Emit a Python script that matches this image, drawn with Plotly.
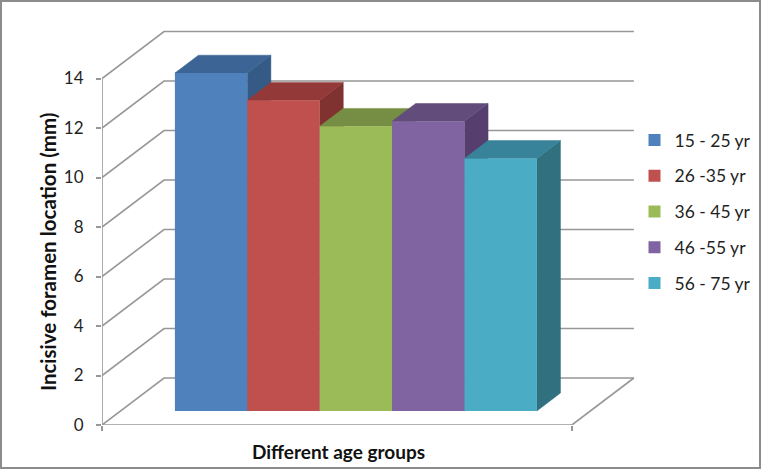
import plotly.graph_objects as go

# ---- data ----
series_names = ["15 - 25 yr", "26 -35 yr", "36 - 45 yr", "46 -55 yr", "56 - 75 yr"]
series_values = [13.65, 12.55, 11.5, 11.7, 10.2]
y_ticks = [0, 2, 4, 6, 8, 10, 12, 14]
x_axis_title = "Different age groups"
y_axis_title = "Incisive foramen location (mm)"

# ---- style ----
front_colors = ["#4f81bd", "#c0504d", "#9bbb59", "#8064a2", "#4bacc6"]
top_colors = ["#3c6494", "#933a38", "#758e43", "#614c7b", "#38839a"]
side_colors = ["#355a85", "#7f3230", "#667c3a", "#563f6e", "#30707f"]
GRID = "#979797"
TEXT = "#1f1f1f"
FONT = "Lato"

W, H = 761, 470
PLOT_L, PLOT_R, PLOT_T, PLOT_B = 102, 640, 25, 425
UX, UY = 72.4, 24.75          # px per category unit / per value unit
CAT_SPAN = 6.49               # axis length in bar widths
DEPTH_X, DEPTH_Y = 62 / UX, 47 / UY   # oblique offset of the back wall
Z_FRONT, Z_BACK = 0.30, 0.68  # bar front and back planes
GAP = 0.75

x_max = (PLOT_R - PLOT_L) / UX
y_max = (PLOT_B - PLOT_T) / UY
px = lambda p: (p - PLOT_L) / (PLOT_R - PLOT_L)
py = lambda p: (PLOT_B - p) / (PLOT_B - PLOT_T)


def proj(x, y, z):
    return x + z * DEPTH_X, y + z * DEPTH_Y


fig = go.Figure()


def line(xs, ys):
    fig.add_trace(go.Scatter(x=xs, y=ys, mode="lines", showlegend=False, hoverinfo="skip",
                             line=dict(color=GRID, width=1.6), cliponaxis=False))


# walls and floor
for v in y_ticks:
    bx, by = proj(0, v, 1)
    ex, ey = proj(CAT_SPAN, v, 1)
    line([0, bx, ex], [v, by, ey])
ex, ey = proj(CAT_SPAN, 0, 1)
line([CAT_SPAN, ex], [0, ey])
line([0, 0], [y_ticks[0], y_ticks[-1]])
line([0, CAT_SPAN], [0, 0])


def poly(pts, color):
    xs = [p[0] for p in pts] + [pts[0][0]]
    ys = [p[1] for p in pts] + [pts[0][1]]
    fig.add_trace(go.Scatter(x=xs, y=ys, mode="lines", fill="toself", fillcolor=color,
                             line=dict(color=color, width=0.5), showlegend=False,
                             hoverinfo="skip"))


# tops and sides, left to right; the fronts sit on an overlaid axis pair above them
for i, v in enumerate(series_values):
    xl, xr = GAP + i, GAP + i + 1
    poly([proj(xr, 0, Z_FRONT), proj(xr, v, Z_FRONT), proj(xr, v, Z_BACK), proj(xr, 0, Z_BACK)],
         side_colors[i])
    poly([proj(xl, v, Z_FRONT), proj(xr, v, Z_FRONT), proj(xr, v, Z_BACK), proj(xl, v, Z_BACK)],
         top_colors[i])

for i, (name, v) in enumerate(zip(series_names, series_values)):
    cx, base = proj(GAP + i + 0.5, 0, Z_FRONT)
    fig.add_trace(go.Bar(x=[cx], y=[v], base=base, width=1, name=name, legendgroup=name,
                         marker=dict(color=front_colors[i], line=dict(width=0)),
                         xaxis="x2", yaxis="y2"))

fig.update_layout(
    width=W, height=H, autosize=False,
    margin=dict(l=PLOT_L, r=W - PLOT_R, t=PLOT_T, b=H - PLOT_B, pad=0, autoexpand=False),
    paper_bgcolor="white", plot_bgcolor="white",
    barmode="overlay",
    font=dict(family=FONT, color=TEXT, size=16),
    xaxis=dict(range=[0, x_max], showgrid=False, zeroline=False, showline=False,
               tickmode="array", tickvals=[0, CAT_SPAN], ticktext=["", ""],
               ticks="outside", ticklen=5, tickwidth=1.6, tickcolor=GRID),
    yaxis=dict(range=[0, y_max], showgrid=False, zeroline=False, showline=False,
               tickmode="array", tickvals=y_ticks, ticks="outside", ticklen=5,
               tickwidth=1.6, tickcolor=GRID, ticklabelstandoff=9,
               tickfont=dict(family=FONT, size=17, color=TEXT)),
    xaxis2=dict(range=[0, x_max], overlaying="x", visible=False),
    yaxis2=dict(range=[0, y_max], overlaying="y", visible=False),
    legend=dict(x=px(634.5), y=py(122), xanchor="left", yanchor="top", traceorder="grouped",
                tracegroupgap=10, font=dict(family=FONT, size=17.5, color=TEXT),
                bgcolor="rgba(0,0,0,0)", itemclick=False, itemdoubleclick=False),
    annotations=[
        dict(text=f"<b>{y_axis_title}</b>", xref="paper", yref="paper", x=px(48), y=py(252),
             xanchor="center", yanchor="middle",
             showarrow=False, textangle=-90, font=dict(family=FONT, size=20.5, color="#111111")),
        dict(text=f"<b>{x_axis_title}</b>", xref="paper", yref="paper", x=px(338), y=py(452),
             xanchor="center", yanchor="middle",
             showarrow=False, font=dict(family=FONT, size=19, color="#111111")),
    ],
    shapes=[dict(type="rect", xref="paper", yref="paper", x0=px(1), x1=px(760), y0=py(1), y1=py(468),
                 line=dict(color="#8c8c8c", width=2), fillcolor="rgba(0,0,0,0)")],
)

fig.write_html("out.html", post_script="document.body.style.margin='0';",
               config=dict(displayModeBar=False))
